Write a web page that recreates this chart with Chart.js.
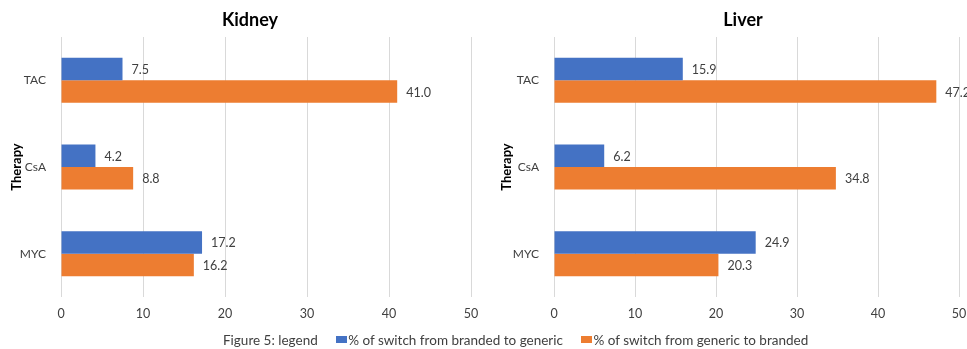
<!DOCTYPE html>
<html>
<head>
<meta charset="utf-8">
<script src="https://cdn.jsdelivr.net/npm/chart.js@4"></script>
<style>
  html, body { margin: 0; padding: 0; background: #fff; }
  body { width: 967px; height: 349px; overflow: hidden; position: relative; font-family: Lato, sans-serif; }
  canvas { position: absolute; top: 0; }
  #kidney { left: 0; }
  #liver { left: 490px; }
  .legend { position: absolute; top: 330px; left: 223px; font-size: 13.5px; color: #404040; white-space: nowrap; }
  .legend span { display: inline-block; vertical-align: middle; }
  .legend .box { width: 11px; height: 7px; margin-right: 1px; }
</style>
</head>
<body>
<canvas id="kidney" width="490" height="349"></canvas>
<canvas id="liver" width="490" height="349"></canvas>
<div class="legend">
  <span style="margin-right:15px">Figure 5: legend</span>
  <span class="box" style="background:#4472C4"></span><span style="margin-right:15px">% of switch from branded to generic</span>
  <span class="box" style="background:#ED7D31"></span><span>% of switch from generic to branded</span>
</div>
<script>
var therapies = ['TAC', 'CsA', 'MYC'];
var seriesNames = ['% of switch from branded to generic', '% of switch from generic to branded'];
var kidneyBrandedToGeneric = [7.5, 4.2, 17.2];
var kidneyGenericToBranded = [41.0, 8.8, 16.2];
var liverBrandedToGeneric = [15.9, 6.2, 24.9];
var liverGenericToBranded = [47.2, 34.8, 20.3];
var xTicks = [0, 10, 20, 30, 40, 50];

var BLUE = '#4472C4';
var ORANGE = '#ED7D31';
var TEXT = '#404040';

// value labels just past the end of each bar
var barValueLabels = {
    id: 'barValueLabels',
    afterDatasetsDraw(chart) {
        var ctx = chart.ctx;
        ctx.save();
        ctx.font = '12.5px Lato, sans-serif';
        ctx.fillStyle = TEXT;
        ctx.textAlign = 'left';
        ctx.textBaseline = 'middle';
        chart.data.datasets.forEach((ds, i) => {
            chart.getDatasetMeta(i).data.forEach((bar, j) => {
                ctx.fillText(ds.data[j].toFixed(1), bar.x + 9, bar.y + 1);
            });
        });
        ctx.restore();
    }
};

// panel heading, centred over the whole panel rather than the plot
var panelTitle = {
    id: 'panelTitle',
    afterDraw(chart, args, opts) {
        var ctx = chart.ctx;
        ctx.save();
        ctx.font = 'bold 18px Lato, sans-serif';
        ctx.fillStyle = '#000';
        ctx.textAlign = 'center';
        ctx.textBaseline = 'middle';
        ctx.fillText(opts.text, opts.x, 20);
        ctx.restore();
    }
};

function makeChart(id, title, titleX, blueData, orangeData, plotLeft, rightPad) {
    return new Chart(document.getElementById(id), {
        type: 'bar',
        data: {
            labels: therapies,
            datasets: [
                { label: seriesNames[0], data: blueData, backgroundColor: BLUE },
                { label: seriesNames[1], data: orangeData, backgroundColor: ORANGE }
            ]
        },
        options: {
            indexAxis: 'y',
            responsive: false,
            animation: false,
            events: [],
            datasets: { bar: { barPercentage: 1, categoryPercentage: 0.52 } },
            layout: { padding: { left: 0, right: rightPad, top: 37, bottom: 19 } },
            plugins: {
                legend: { display: false },
                tooltip: { enabled: false },
                title: { display: false },
                panelTitle: { text: title, x: titleX }
            },
            scales: {
                x: {
                    min: 0,
                    max: 50,
                    afterBuildTicks: (scale) => { scale.ticks = xTicks.map(v => ({ value: v })); },
                    grid: { color: '#d9d9d9', drawTicks: false },
                    border: { display: false },
                    ticks: { color: TEXT, padding: 9, font: { family: 'Lato, sans-serif', size: 12.5 } }
                },
                y: {
                    grid: { display: false, drawTicks: false },
                    border: { display: false },
                    afterFit: (scale) => { scale.width = plotLeft; },
                    ticks: { color: TEXT, padding: 15, font: { family: 'Lato, sans-serif', size: 12 } },
                    title: {
                        display: true,
                        text: 'Therapy',
                        color: '#000',
                        font: { family: 'Lato, sans-serif', size: 13, weight: 'bold' },
                        padding: { top: 9, bottom: 4 }
                    }
                }
            }
        },
        plugins: [barValueLabels, panelTitle]
    });
}

makeChart('kidney', 'Kidney', 250, kidneyBrandedToGeneric, kidneyGenericToBranded, 61, 19);
makeChart('liver', 'Liver', 253, liverBrandedToGeneric, liverGenericToBranded, 64, 21);
</script>
</body>
</html>
